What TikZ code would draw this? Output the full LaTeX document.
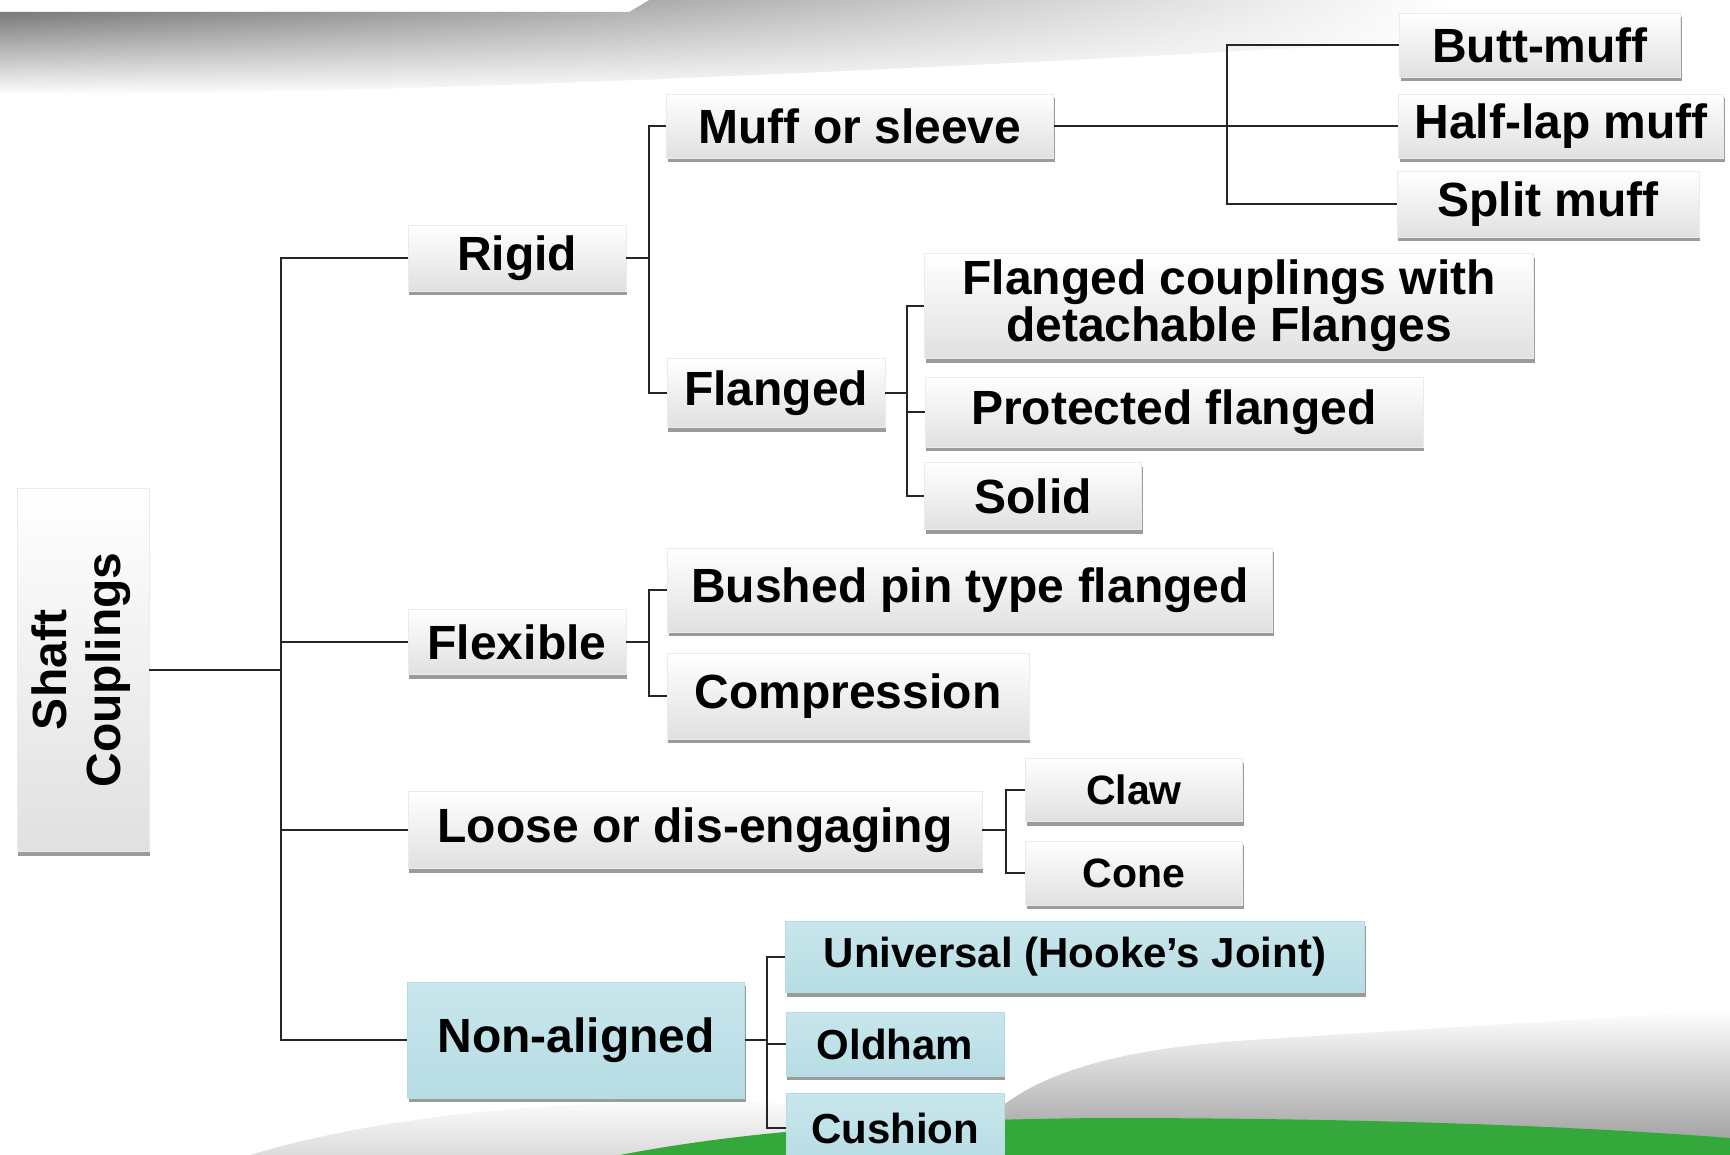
\documentclass[tikz,border=0pt]{standalone}
\usepackage{fontspec}
\setmainfont{Liberation Sans}
\usetikzlibrary{shadows,fadings}
\tikzfading[name=fadeR, left color=transparent!0, right color=transparent!100]
\definecolor{boxblue}{RGB}{183,221,228}
\definecolor{boxblueT}{RGB}{200,230,236}
\definecolor{ggreen}{RGB}{52,168,58}
\tikzset{
  conn/.style={draw=black!85, line width=1.4pt},
  gbox/.style={inner sep=0pt, top color=white, bottom color=black!12, draw=black!8,
    drop shadow={shadow xshift=0.6pt, shadow yshift=-2.2pt, opacity=0.6, fill=black!65},
    font=\fontsize{24}{26}\selectfont\bfseries, align=center, text=black},
  bbox/.style={gbox, top color=boxblueT, bottom color=boxblue, draw=boxblue},
  smallt/.style={font=\fontsize{20.5}{23}\selectfont\bfseries},
  bluet/.style={font=\fontsize{21}{23}\selectfont\bfseries}
}
\begin{document}
\begin{tikzpicture}[x=0.5pt,y=-0.5pt]
\useasboundingbox (0,0) rectangle (1730,1155);
\clip (0,0) rectangle (1730,1155);
% background
\shade[top color=black!60, bottom color=white, path fading=fadeR]
  (0,12) -- (630,12) -- (650,0) -- (1450,0) -- (1450,40)
  .. controls (900,70) and (400,95) .. (0,95) -- cycle;
\shade[top color=white, bottom color=black!14]
  (250,1155) .. controls (400,1110) and (600,1095) .. (820,1105) -- (820,1155) -- cycle;
\shade[top color=white, bottom color=black!40]
  (960,1155) .. controls (1000,1080) and (1100,1050) .. (1250,1040) -- (1730,1010) -- (1730,1155) -- cycle;
\fill[ggreen] (620,1155) .. controls (750,1130) and (900,1120) .. (1100,1118)
  .. controls (1400,1118) and (1600,1128) .. (1730,1138) -- (1730,1155) -- cycle;

% nodes (sizes in pt = pixels/2)
\node[gbox, minimum width=66pt, minimum height=181.5pt] (sc) at (83,670) {\rotatebox{90}{\fontsize{24}{27}\selectfont\bfseries\begin{tabular}{@{}c@{}}Shaft\\Couplings\end{tabular}}};
\node[gbox, minimum width=109pt, minimum height=33pt] (rigid) at (517,258) {Rigid};
\node[gbox, minimum width=109pt, minimum height=32.5pt] (flex) at (517,642) {Flexible};
\node[gbox, minimum width=287pt, minimum height=38.5pt] (loose) at (695,830) {Loose or dis-engaging};
\node[bbox, minimum width=168.5pt, minimum height=58pt] (nonal) at (576,1040) {Non-aligned};
\node[gbox, minimum width=193.5pt, minimum height=32pt] (muff) at (860,126) {Muff or sleeve};
\node[gbox, minimum width=109pt, minimum height=34.5pt] (flanged) at (776,393) {Flanged};
\node[gbox, minimum width=140.5pt, minimum height=32pt] (butt) at (1540,45) {Butt-muff};
\node[gbox, minimum width=162.5pt, minimum height=32pt] (half) at (1561,126) {Half-lap muff};
\node[gbox, minimum width=151pt, minimum height=33pt] (split) at (1548,204) {Split muff};
\node[gbox, minimum width=304.5pt, minimum height=52.5pt, font=\fontsize{24}{23.5}\selectfont\bfseries] (fcd) at (1229,306) {Flanged couplings with\\detachable Flanges};
\node[gbox, minimum width=249pt, minimum height=35pt] (prot) at (1174,412) {Protected flanged};
\node[gbox, minimum width=108.5pt, minimum height=33.5pt] (solid) at (1033,496) {Solid};
\node[gbox, minimum width=302.5pt, minimum height=42pt] (bushed) at (970,590) {Bushed pin type flanged};
\node[gbox, minimum width=181pt, minimum height=43pt] (comp) at (848,696) {Compression};
\node[gbox, smallt, minimum width=108.5pt, minimum height=31.5pt] (claw) at (1134,790) {Claw};
\node[gbox, smallt, minimum width=108.5pt, minimum height=32pt] (cone) at (1134,873) {Cone};
\node[bbox, bluet, minimum width=289.5pt, minimum height=35.5pt] (univ) at (1075,957) {Universal (Hooke’s Joint)};
\node[bbox, bluet, minimum width=109pt, minimum height=32pt] (oldham) at (895,1044) {Oldham};
\node[bbox, bluet, minimum width=109pt, minimum height=35pt] (cushion) at (895,1128) {Cushion};

% branch points
\coordinate (bt) at (281,0);
\coordinate (br) at (649,0);
\coordinate (bm) at (1227,0);
\coordinate (bf) at (907,0);
\coordinate (bx) at (649,0);
\coordinate (bl) at (1006,0);
\coordinate (bn) at (767,0);

% connectors
\foreach \c in {rigid,flex,loose,nonal}
  \draw[conn] (sc.east) -- (sc.east -| bt) |- (\c.west);
\foreach \c in {muff,flanged}
  \draw[conn] (rigid.east) -- (rigid.east -| br) |- (\c.west);
\foreach \c in {butt,half,split}
  \draw[conn] (muff.east) -- (muff.east -| bm) |- (\c.west);
\foreach \c in {fcd,prot,solid}
  \draw[conn] (flanged.east) -- (flanged.east -| bf) |- (\c.west);
\foreach \c in {bushed,comp}
  \draw[conn] (flex.east) -- (flex.east -| bx) |- (\c.west);
\foreach \c in {claw,cone}
  \draw[conn] (loose.east) -- (loose.east -| bl) |- (\c.west);
\foreach \c in {univ,oldham,cushion}
  \draw[conn] (nonal.east) -- (nonal.east -| bn) |- (\c.west);
\end{tikzpicture}
\end{document}
